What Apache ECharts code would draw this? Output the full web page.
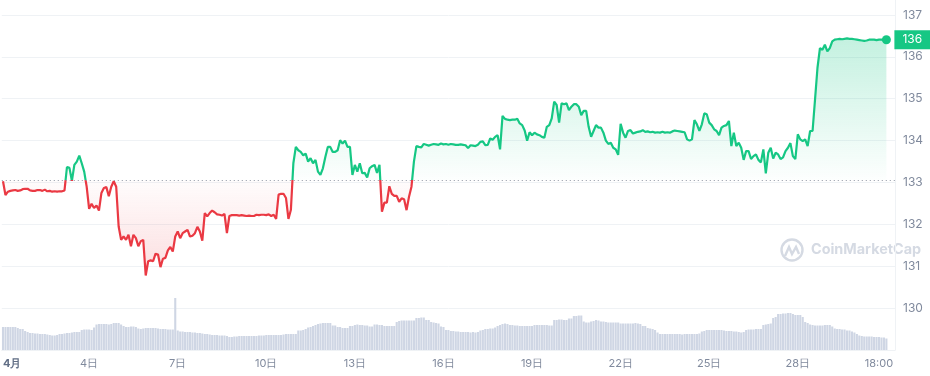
<!DOCTYPE html>
<html>
<head>
<meta charset="utf-8">
<style>
  html, body { margin: 0; padding: 0; background: #fff; }
  #main { width: 930px; height: 376px; }
</style>
</head>
<body>
<div id="main"></div>
<script src="https://cdn.jsdelivr.net/npm/echarts@6/dist/echarts.min.js"></script>
<script>
// 2-hour samples
const prices = [
  133.03,132.70,132.78,132.80,132.81,132.82,132.80,132.81,132.84,132.85,
  132.85,132.81,132.80,132.80,132.82,132.82,132.80,132.83,132.79,132.80,
  132.78,132.79,132.78,132.79,132.79,132.81,133.37,133.35,133.04,133.42,
  133.50,133.64,133.46,133.26,132.90,132.37,132.49,132.39,132.45,132.33,
  132.75,132.87,132.89,132.67,132.90,133.03,132.90,131.95,131.63,131.71,
  131.63,131.75,131.48,131.75,131.67,131.48,131.60,131.63,130.78,131.12,
  131.14,131.12,131.30,131.28,130.98,131.18,131.20,131.38,131.46,131.35,
  131.71,131.83,131.67,131.79,131.83,131.87,131.71,131.73,131.79,131.94,
  131.83,131.61,132.27,132.19,132.27,132.33,132.29,132.24,132.23,132.21,
  132.25,131.79,132.20,132.22,132.22,132.22,132.21,132.22,132.21,132.20,
  132.21,132.20,132.20,132.23,132.22,132.23,132.23,132.22,132.24,132.20,
  132.23,132.13,132.71,132.73,132.73,132.63,132.13,132.35,133.46,133.85,
  133.77,133.73,133.65,133.69,133.50,133.58,133.46,133.54,133.26,133.18,
  133.34,133.61,133.85,133.85,133.73,133.73,133.77,134.01,133.93,134.00,
  133.85,133.85,133.18,133.42,133.26,133.46,133.22,133.23,133.12,133.34,
  133.39,133.42,133.23,133.42,132.30,132.52,132.52,132.91,132.73,132.68,
  132.68,132.54,132.62,132.60,132.34,132.66,132.90,133.50,133.87,133.85,
  133.84,133.92,133.90,133.88,133.90,133.92,133.91,133.90,133.93,133.91,
  133.92,133.90,133.92,133.91,133.90,133.90,133.91,133.90,133.89,133.82,
  133.89,133.88,133.87,133.90,133.97,133.98,133.89,133.90,134.05,134.02,
  134.09,134.13,133.79,134.59,134.52,134.50,134.49,134.50,134.50,134.52,
  134.41,134.37,134.24,134.00,134.20,134.13,134.19,134.15,134.13,134.09,
  134.07,134.33,134.37,134.53,134.93,134.85,134.43,134.89,134.87,134.89,
  134.73,134.81,134.87,134.87,134.81,134.61,134.71,134.71,134.33,134.09,
  134.23,134.37,134.31,134.31,134.19,134.00,133.92,133.95,133.83,133.79,
  133.66,134.40,134.19,134.07,134.23,134.25,134.17,134.19,134.21,134.22,
  134.25,134.21,134.22,134.20,134.21,134.19,134.20,134.19,134.21,134.19,
  134.20,134.19,134.22,134.24,134.23,134.22,134.21,134.20,134.03,134.00,
  134.03,134.49,134.39,134.23,134.39,134.65,134.63,134.43,134.37,134.27,
  134.23,134.13,134.31,134.35,134.37,134.47,133.87,134.19,133.87,133.95,
  133.83,133.54,133.75,133.75,133.56,133.63,133.67,133.54,133.48,133.79,
  133.22,133.71,133.83,133.57,133.71,133.67,133.56,133.60,133.75,133.83,
  133.94,133.63,133.56,134.15,134.03,133.99,134.03,133.87,134.23,134.23,
  134.98,135.74,136.21,136.17,136.29,136.13,136.21,136.37,136.41,136.42,
  136.43,136.42,136.43,136.44,136.43,136.43,136.42,136.41,136.40,136.39,
  136.38,136.39,136.41,136.41,136.41,136.40,136.41,136.41,136.40,136.41
];
const volumes = [
  23,23,23,23,23,23,22,21,21,19,
  18,17,17,16.5,16.5,16,16,16,15.5,15,
  14.5,14.5,15,16,16,16.5,17,17,17.5,18,
  18,18,20,20.5,20.5,20.5,20,22.5,25.5,26,
  26,26,26,25.5,26,27,27,27,25.5,24,
  23,23,23.5,23.5,23,21.5,21,21.5,22,22,
  22,22,22,21.5,21,21,21,20.5,20.5,20.5,
  52,19.5,18.5,18.5,18,18,18,17.5,17.5,17,
  17,16.5,16,16,15.5,15,15,15,14.5,14.5,
  14.5,14,13,13,13.5,13.5,14,14,14,14,
  14,14,14,14,14.5,14.5,14.5,15,15,15,
  15,15,15,15,15.5,16,16,16,16,16,
  19.5,19.5,20,21,22.5,23,24,25,26,26.5,
  27,27,27,27,24.5,24.5,23,23,22,22,
  22,24,24,25,25.5,25,25,24.5,24.5,23.5,
  23.5,25.5,25.5,25,25,24,24,24,24,24,
  28,29,29.5,29.5,29.5,29.5,29.5,29.5,32,32,
  32.5,32.5,30,30,28,27.5,27,26.5,23.5,23,
  20,20,19,19,18.5,18.5,18,18,18,18,
  17.5,18,17.5,18,19.5,20,21,21,21.5,21.5,
  22.5,24,25,26,26.5,26,25,25,24.5,24.5,
  24,24,24,24,24,24,25,25,25,25,
  25,25,24.5,24.5,30,30,30.5,30.5,30,30,
  31.5,31.5,34,34,34.5,34.5,28.5,27.5,27.5,28.5,
  29,30,29.5,28.5,28.5,28,27.5,27.5,27.5,27.5,
  27.5,26.5,26.5,26.5,26.5,26.5,26.5,27,26.5,26,
  24,24,22,21.5,21,20,17.5,16,16,16,
  16,16,16,16,16,16,15.5,16,16,16,
  16,16,16,16.5,18.5,19,20,20,20,20,
  20,20,20,19.5,19,19,19,18.5,18.5,18,
  17.5,18,20,20.5,20.5,20.5,21,21,21,25,
  25.5,26,26.5,32,33,36,36,36.5,36.5,37,
  37,36,35,35,35,33,28,27,25.5,25,
  24.5,24.5,24.5,24.5,25,25,25,23.5,21.5,21,
  21,20.5,20.5,19.5,19.5,18.5,17.5,16,14.5,14,
  13.5,13.5,13.5,13.5,13,13,13,12.5,12.5,11.5
];
const tickLabels = { 0: '4月', 35: '4日', 71: '7日', 107: '10日', 143: '13日', 179: '16日',
  215: '19日', 251: '22日', 287: '25日', 323: '28日', 356: '18:00' };
const basePrice = 133.05;

// 后面留几格空白，线不贴到右边
const categories = [];
for (let i = 0; i < prices.length + 3; i++) categories.push(tickLabels[i] || '');

const green = '#16c784';
const red = '#ea3943';
const lastIndex = prices.length - 1;
const maxPrice = Math.max(...prices);
const minPrice = Math.min(...prices);
const baseStop = (maxPrice - basePrice) / (maxPrice - minPrice);

const myChart = echarts.init(document.getElementById('main'));
const option = {
  animation: false,
  textStyle: { fontFamily: 'Inter' },
  grid: { left: 0, right: 35, top: 0, height: 350 },
  xAxis: {
    type: 'category',
    data: categories,
    boundaryGap: true,
    axisLine: { lineStyle: { color: '#eff2f5' } },
    axisTick: {
      alignWithLabel: true, length: 3, lineStyle: { color: '#eff2f5' },
      interval: (i) => i in tickLabels && i > 0
    },
    axisLabel: {
      interval: (i) => i in tickLabels,
      hideOverlap: false,
      alignMinLabel: 'left',
      color: '#808a9d',
      fontSize: 11,
      margin: 8,
      formatter: (v) => v === '4月' ? '{b|4月}' : v,
      rich: { b: { fontWeight: 'bold', color: '#616e85', fontSize: 11 } }
    },
    splitLine: { show: false }
  },
  yAxis: [
    {
      type: 'value',
      position: 'right',
      min: 129,
      max: 137.358,
      interval: 1,
      axisLine: { show: true, lineStyle: { color: '#eff2f5' } },
      axisTick: { show: false },
      axisLabel: {
        color: '#808a9d', fontSize: 12, margin: 8, padding: [2, 0, 0, 0],
        showMinLabel: false, showMaxLabel: false
      },
      splitLine: { show: true, showMaxLine: false, lineStyle: { color: '#eff2f5' } }
    },
    { type: 'value', show: false, min: 0, max: 350 }
  ],
  visualMap: {
    show: false,
    type: 'piecewise',
    seriesIndex: 1,
    dimension: 1,
    pieces: [
      { min: 129, max: basePrice, color: red },
      { min: basePrice, max: 138, color: green }
    ]
  },
  series: [
    {
      name: 'volume',
      type: 'bar',
      yAxisIndex: 1,
      data: volumes,
      barWidth: 2.1,
      itemStyle: { color: '#cfd6e4' },
      silent: true
    },
    {
      name: 'price',
      type: 'line',
      data: prices,
      showSymbol: false,
      lineStyle: { width: 2.2 },
      areaStyle: {
        origin: basePrice,
        color: new echarts.graphic.LinearGradient(0, 0, 0, 1, [
          { offset: 0, color: 'rgba(22,199,132,0.36)' },
          { offset: baseStop, color: 'rgba(22,199,132,0.01)' },
          { offset: baseStop, color: 'rgba(234,57,67,0.02)' },
          { offset: 1, color: 'rgba(234,57,67,0.24)' }
        ])
      },
      markLine: {
        silent: true,
        symbol: 'none',
        label: { show: false },
        lineStyle: { color: '#8f96a3', type: [1, 3], width: 1 },
        data: [{ yAxis: basePrice }]
      },
      markPoint: {
        silent: true,
        symbol: 'circle',
        symbolSize: 9,
        itemStyle: { color: green },
        label: {
          show: true,
          position: 'right',
          distance: 3.5,
          formatter: () => '136',
          color: '#fff',
          fontSize: 12,
          backgroundColor: green,
          padding: [4, 8, 3, 8]
        },
        data: [{ coord: [lastIndex, prices[lastIndex]] }]
      }
    }
  ],
  graphic: [
    {
      type: 'circle', silent: true,
      shape: { cx: 792, cy: 250, r: 10.5 },
      style: { fill: 'none', stroke: '#d5dae3', lineWidth: 2.4 }
    },
    {
      type: 'polyline', silent: true,
      shape: { points: [[785, 256], [789, 247], [792, 254], [796, 247], [799, 254]] },
      style: { fill: 'none', stroke: '#d5dae3', lineWidth: 2.4 }
    },
    {
      type: 'text', silent: true, left: 811, top: 243,
      style: { text: 'CoinMarketCap', fill: '#d5dae3', font: 'bold 14.4px Inter' }
    }
  ]
};
myChart.setOption(option);
</script>
</body>
</html>
